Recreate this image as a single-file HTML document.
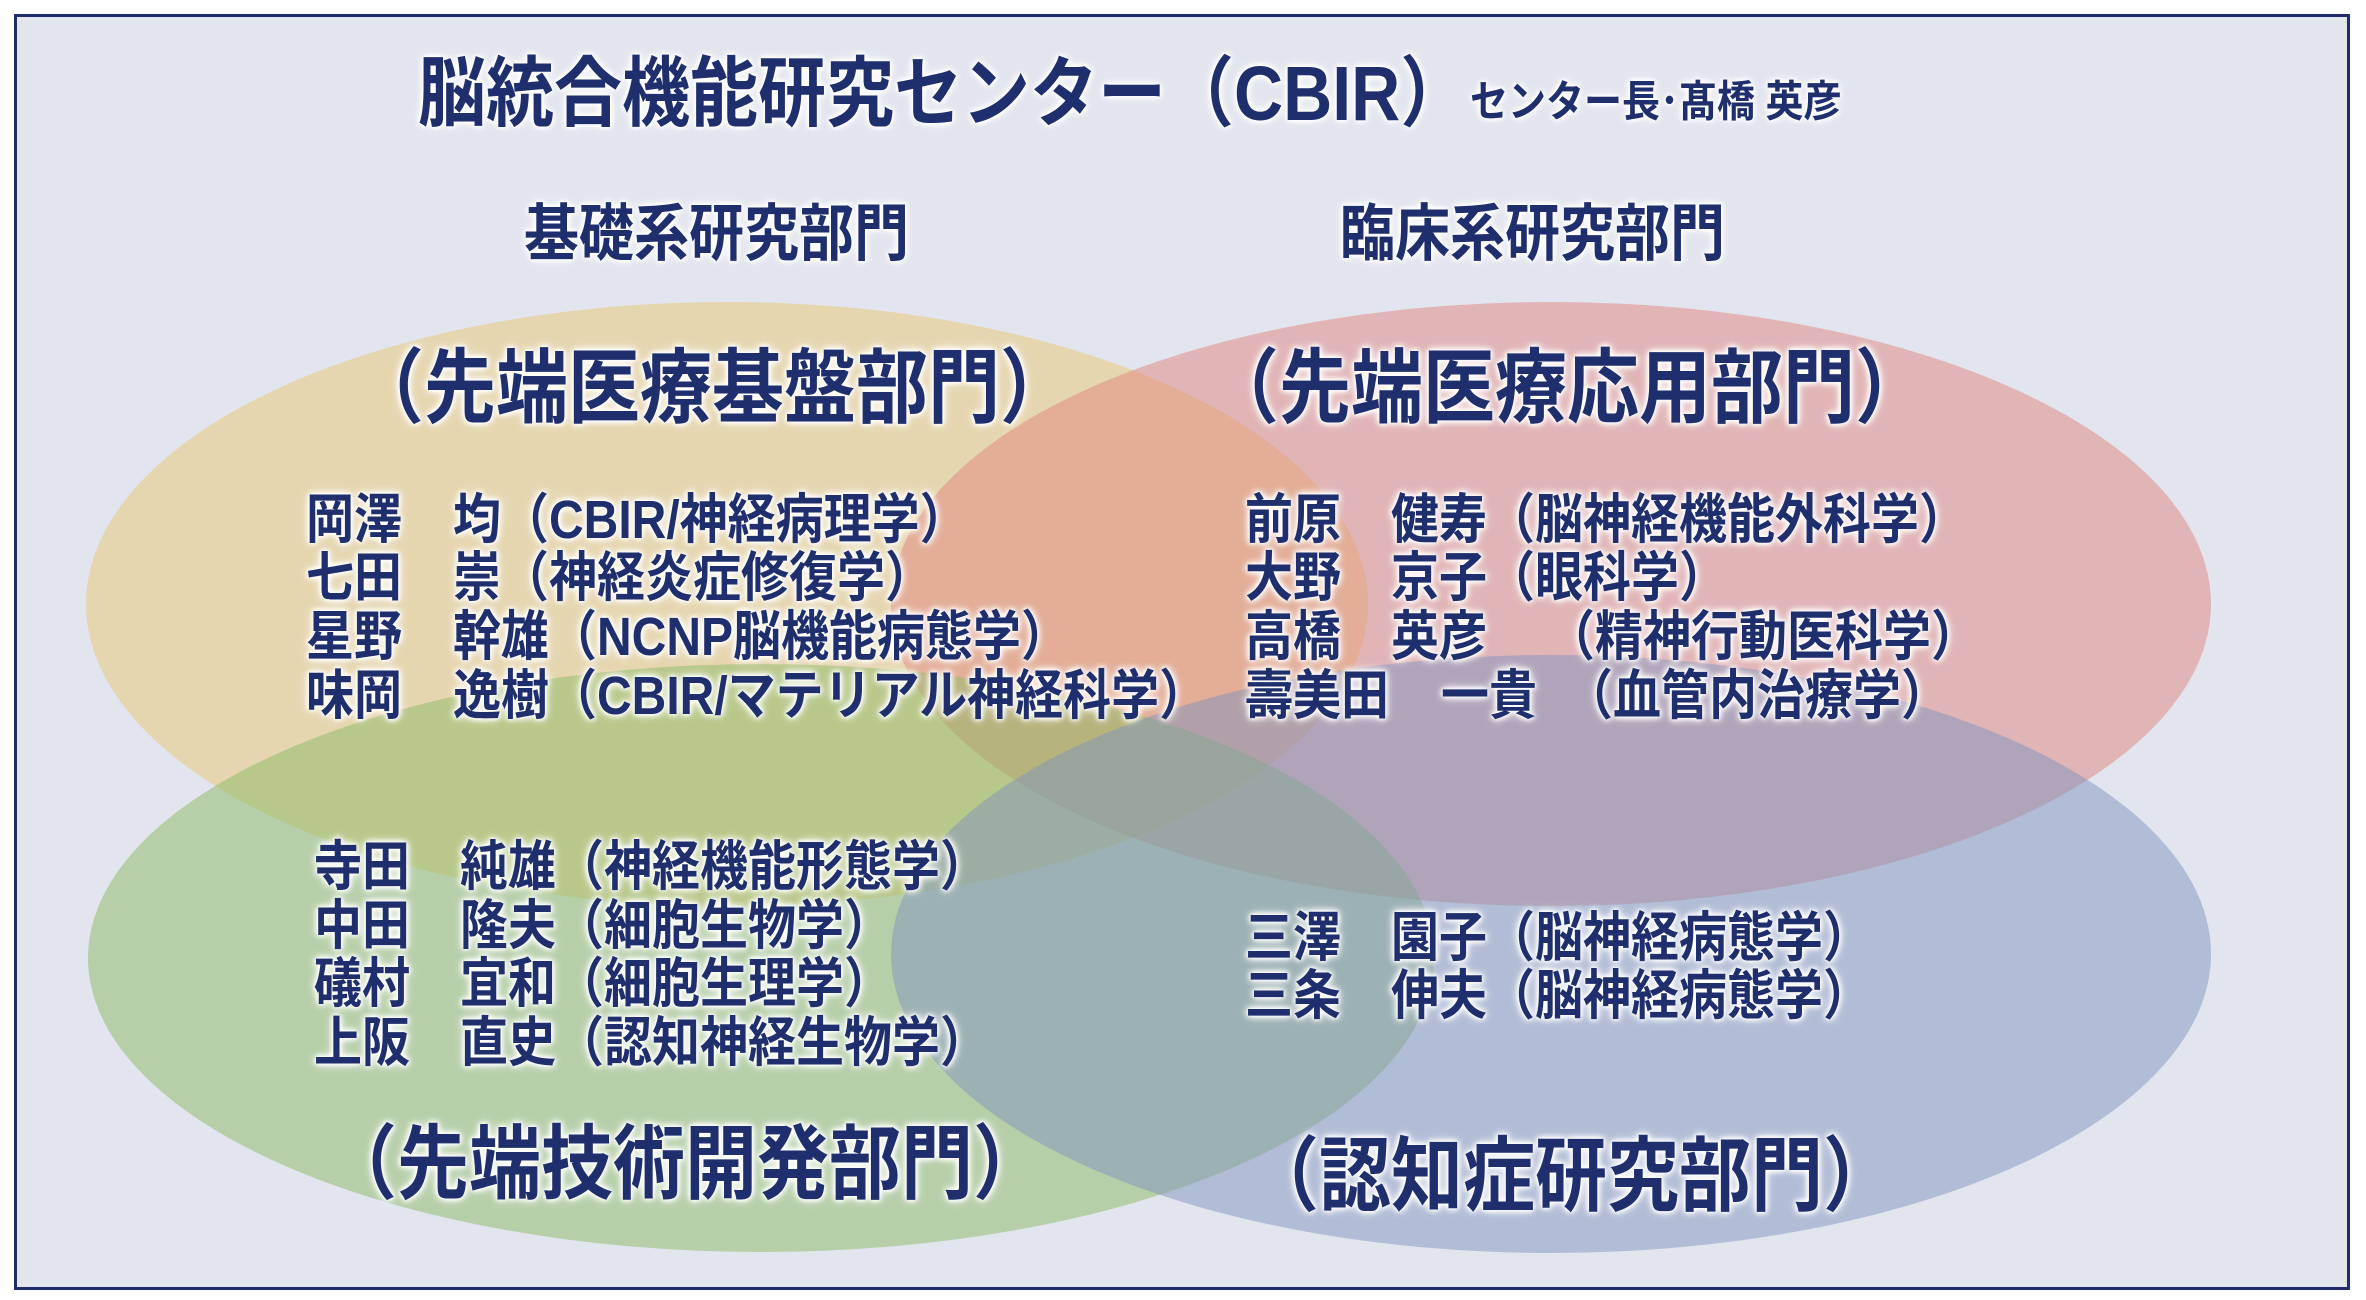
<!DOCTYPE html>
<html><head><meta charset="utf-8">
<style>
html,body{margin:0;padding:0}
body{width:2366px;height:1300px;position:relative;overflow:hidden;background:#fff;
font-family:"Liberation Sans","Noto Sans CJK JP",sans-serif;}
#frame{position:absolute;left:14px;top:14px;width:2330px;height:1270px;border:3px solid #1f2d6b;background:#e2e5ee;}
svg{position:absolute;left:0;top:0}
.t{position:absolute;white-space:nowrap;color:#1f2f6e;font-weight:bold;
text-shadow:0 0 6px #fff,0 0 6px #fff,0 0 10px #fff,0 0 3px #fff;line-height:1;
transform:translate(0,-50%) scale(1,1.13);transform-origin:left center;}
.n{font-size:48px;}
.h{font-size:72px;}
</style></head><body>
<div id="frame"></div>
<svg width="2366" height="1300">
<ellipse cx="727" cy="604" rx="641" ry="302" fill="rgb(233,199,114)" opacity="0.5"/>
<ellipse cx="1551" cy="604" rx="660" ry="302" fill="rgb(223,131,126)" opacity="0.5"/>
<ellipse cx="761" cy="958" rx="673" ry="294" fill="rgb(137,185,100)" opacity="0.5"/>
<ellipse cx="1551" cy="954" rx="660" ry="299" fill="rgb(127,147,190)" opacity="0.5"/>
</svg>

<div class="t" style="left:418px;top:94px;font-size:68px">脳統合機能研究センター（CBIR）</div>
<div class="t" style="left:1470px;top:103px;font-size:38px">センター長･髙橋 英彦</div>

<div class="t" style="left:524px;top:234px;font-size:55px">基礎系研究部門</div>
<div class="t" style="left:1340px;top:234px;font-size:55px">臨床系研究部門</div>

<div class="t h" style="left:352px;top:389px">（先端医療基盤部門）</div>
<div class="t h" style="left:1207px;top:389px">（先端医療応用部門）</div>
<div class="t h" style="left:325px;top:1165px">（先端技術開発部門）</div>
<div class="t h" style="left:1247px;top:1177px">（認知症研究部門）</div>

<!-- left upper -->
<div class="t n" style="left:306px;top:521px">岡澤</div><div class="t n" style="left:453px;top:521px">均（CBIR/神経病理学）</div>
<div class="t n" style="left:306px;top:579px">七田</div><div class="t n" style="left:453px;top:579px">崇（神経炎症修復学）</div>
<div class="t n" style="left:306px;top:638px">星野</div><div class="t n" style="left:453px;top:638px">幹雄（NCNP脳機能病態学）</div>
<div class="t n" style="left:306px;top:697px">味岡</div><div class="t n" style="left:453px;top:697px">逸樹（CBIR/マテリアル神経科学）</div>

<!-- left lower -->
<div class="t n" style="left:314px;top:868px">寺田</div><div class="t n" style="left:460px;top:868px">純雄（神経機能形態学）</div>
<div class="t n" style="left:314px;top:927px">中田</div><div class="t n" style="left:460px;top:927px">隆夫（細胞生物学）</div>
<div class="t n" style="left:314px;top:985px">礒村</div><div class="t n" style="left:460px;top:985px">宜和（細胞生理学）</div>
<div class="t n" style="left:314px;top:1044px">上阪</div><div class="t n" style="left:460px;top:1044px">直史（認知神経生物学）</div>

<!-- right upper -->
<div class="t n" style="left:1245px;top:521px">前原</div><div class="t n" style="left:1391px;top:521px">健寿（脳神経機能外科学）</div>
<div class="t n" style="left:1245px;top:579px">大野</div><div class="t n" style="left:1391px;top:579px">京子（眼科学）</div>
<div class="t n" style="left:1245px;top:638px">高橋</div><div class="t n" style="left:1391px;top:638px">英彦</div><div class="t n" style="left:1547px;top:638px">（精神行動医科学）</div>
<div class="t n" style="left:1245px;top:697px">壽美田</div><div class="t n" style="left:1441px;top:697px">一貴</div><div class="t n" style="left:1565px;top:697px">（血管内治療学）</div>

<!-- right lower -->
<div class="t n" style="left:1245px;top:939px">三澤</div><div class="t n" style="left:1391px;top:939px">園子（脳神経病態学）</div>
<div class="t n" style="left:1245px;top:997px">三条</div><div class="t n" style="left:1391px;top:997px">伸夫（脳神経病態学）</div>
</body></html>
